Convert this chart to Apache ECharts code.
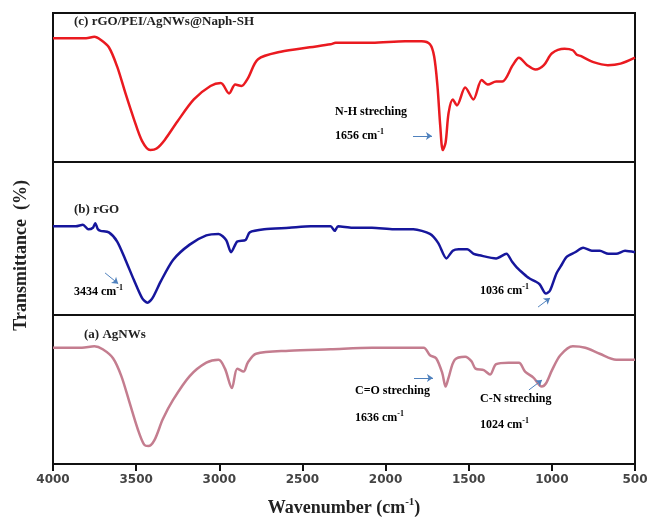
<!DOCTYPE html>
<html lang="en">

<head>
  <meta charset="UTF-8">
  <title>FTIR spectra</title>
  <script src="https://cdn.jsdelivr.net/npm/echarts@6/dist/echarts.min.js"></script>
</head>

<body style="margin:0;background:#fff;">
  <div id="main" style="width: 648px; height:519px;"></div>
  <script type="text/javascript">
    // tick labels of the shared wavenumber axis
    var xTicks = [4000, 3500, 3000, 2500, 2000, 1500, 1000, 500];

    // (c) rGO/PEI/AgNWs@Naph-SH - wavenumber / relative transmittance
    var wnC = [4000, 3801, 3751, 3714, 3664, 3614, 3564, 3514, 3464, 3415, 3377, 3327, 3253, 3153, 3053, 2991, 2941, 2904, 2867, 2829, 2767, 2630, 2456, 2331, 2300, 2082, 1883, 1783, 1733, 1708, 1688, 1671, 1656, 1639, 1621, 1596, 1571, 1521, 1472, 1422, 1385, 1335, 1298, 1235, 1198, 1148, 1098, 1048, 999, 924, 874, 850, 824, 750, 663, 587, 500];
    var tC = [83, 83, 84, 82, 77, 64, 46, 29, 14, 8, 9, 15, 27, 42, 51, 53, 46, 52, 51, 56, 69, 74, 77, 79, 80, 80, 81, 81, 79, 71, 51, 24, 8, 13, 33, 42, 38, 50, 42, 55, 52, 54, 54, 65, 70, 65, 62, 65, 73, 76, 75, 72, 71, 67, 65, 66, 70];

    // (b) rGO
    var wnB = [4000, 3863, 3820, 3788, 3760, 3746, 3730, 3714, 3664, 3614, 3564, 3514, 3464, 3432, 3402, 3352, 3278, 3178, 3078, 3004, 2959, 2929, 2892, 2842, 2817, 2730, 2580, 2450, 2331, 2306, 2285, 2200, 2082, 1950, 1833, 1733, 1683, 1634, 1596, 1560, 1509, 1470, 1435, 1335, 1273, 1240, 1210, 1170, 1136, 1100, 1073, 1036, 1011, 973, 940, 911, 860, 812, 760, 712, 660, 613, 560, 500];
    var tB = [58, 58, 59, 56, 57, 60, 56, 55, 54, 48, 36, 23, 11, 8, 11, 22, 36, 46, 52, 53, 49, 41, 48, 49, 54, 56, 57, 58, 58, 55, 58, 57, 57, 56, 56, 53, 47, 37, 42, 43, 43, 40, 39, 37, 40, 35, 31, 27, 24, 22, 20, 14, 16, 27, 33, 38, 41, 44, 42, 42, 40, 40, 42, 41];

    // (a) AgNWs
    var wnA = [4000, 3826, 3751, 3701, 3639, 3589, 3539, 3489, 3452, 3427, 3390, 3340, 3278, 3178, 3078, 3004, 2966, 2924, 2892, 2854, 2829, 2779, 2580, 2331, 2082, 1771, 1733, 1696, 1659, 1639, 1621, 1584, 1521, 1484, 1459, 1409, 1372, 1335, 1260, 1198, 1161, 1111, 1061, 1036, 999, 949, 874, 799, 712, 613, 500];
    var tA = [78, 78, 79, 77, 71, 59, 41, 23, 13, 12, 16, 30, 43, 59, 68, 70, 64, 51, 64, 62, 68, 74, 76, 77, 78, 78, 73, 71, 61, 52, 58, 70, 72, 69, 64, 63, 60, 67, 68, 68, 62, 58, 52, 54, 63, 73, 79, 78, 74, 70, 70];

    function pairs(xs, ys) {
      return xs.map(function (x, i) { return [x, ys[i]]; });
    }

    var serif = 'Liberation Serif';
    var arrowColor = '#4f81bd';
    var supRich = {
      a: { fontFamily: serif, fontWeight: 'bold', fontSize: 12, color: '#222', lineHeight: 16 },
      s: { fontFamily: serif, fontWeight: 'bold', fontSize: 8, color: '#222', verticalAlign: 'top', lineHeight: 16, padding: [0, 0, 6, 0] }
    };

    function note(x, y, txt) {
      return {
        type: 'text', left: x, top: y,
        style: { text: txt, rich: supRich }
      };
    }

    function arrows(list) {
      return {
        silent: true,
        symbol: ['none', 'arrow'],
        symbolSize: 6,
        label: { show: false },
        lineStyle: { color: arrowColor, width: 1, type: 'solid' },
        data: list.map(function (p) { return [{ coord: p[0] }, { coord: p[1] }]; })
      };
    }

    var grids = [
      { left: 53, right: 13, top: 13, height: 149 },
      { left: 53, right: 13, top: 162, height: 153 },
      { left: 53, right: 13, top: 315, height: 149 }
    ];
    grids.forEach(function (g) {
      g.show = true;
      g.borderColor = '#111';
      g.borderWidth = 2;
      g.containLabel = false;
      g.outerBoundsMode = 'none';
    });

    var xAxes = [0, 1, 2].map(function (i) {
      return {
        type: 'value', gridIndex: i, min: 500, max: 4000, interval: 500, inverse: true,
        show: i === 2,
        axisLine: { lineStyle: { color: '#111', width: 2 } },
        axisTick: { show: true, length: 7, lineStyle: { color: '#111', width: 2 } },
        splitLine: { show: false },
        axisLabel: {
          margin: 10, color: '#444', fontFamily: 'DejaVu Sans', fontWeight: 'bold', fontSize: 12,
          formatter: function (v) { return xTicks.indexOf(v) >= 0 ? String(v) : ''; }
        },
        name: i === 2 ? '{a|Wavenumber (cm}{s|-1}{a|)}' : '',
        nameLocation: 'middle',
        nameGap: 33,
        nameTextStyle: {
          rich: {
            a: { fontFamily: serif, fontWeight: 'bold', fontSize: 18, color: '#222', lineHeight: 22 },
            s: { fontFamily: serif, fontWeight: 'bold', fontSize: 11, color: '#222', verticalAlign: 'top', lineHeight: 22, padding: [0, 0, 8, 0] }
          }
        }
      };
    });

    var yAxes = [0, 1, 2].map(function (i) {
      return { type: 'value', gridIndex: i, min: 0, max: 100, show: false, splitLine: { show: false } };
    });

    var myChart = echarts.init(document.getElementById('main'));
    var option = {
      animation: false,
      backgroundColor: '#fff',
      grid: grids,
      xAxis: xAxes,
      yAxis: yAxes,
      series: [
        {
          name: '(c) rGO/PEI/AgNWs@Naph-SH', type: 'line', xAxisIndex: 0, yAxisIndex: 0,
          data: pairs(wnC, tC), showSymbol: false, smooth: 0.3,
          lineStyle: { color: '#ea1a20', width: 2.5 },
          markLine: arrows([[[1835, 17.4], [1721, 17.4]]])
        },
        {
          name: '(b) rGO', type: 'line', xAxisIndex: 1, yAxisIndex: 1,
          data: pairs(wnB, tB), showSymbol: false, smooth: 0.25,
          lineStyle: { color: '#16169c', width: 2.5 },
          markLine: arrows([
            [[3687, 27.5], [3608, 20.5]],
            [[1083, 5.2], [1011, 11.1]]
          ])
        },
        {
          name: '(a) AgNWs', type: 'line', xAxisIndex: 2, yAxisIndex: 2,
          data: pairs(wnA, tA), showSymbol: false, smooth: 0.3,
          lineStyle: { color: '#c47d8f', width: 2.5 },
          markLine: arrows([
            [[1829, 57.7], [1715, 57.7]],
            [[1138, 49.7], [1059, 56.4]]
          ])
        }
      ],
      graphic: [
        {
          type: 'text', left: 12, top: 180, rotation: Math.PI / 2,
          style: { text: 'Transmittance  (%)', fontFamily: serif, fontWeight: 'bold', fontSize: 18, fill: '#222' }
        },
        { type: 'text', left: 74, top: 15, style: { text: '(c) rGO/PEI/AgNWs@Naph-SH', fontFamily: serif, fontWeight: 'bold', fontSize: 13, fill: '#222' } },
        { type: 'text', left: 74, top: 203, style: { text: '(b) rGO', fontFamily: serif, fontWeight: 'bold', fontSize: 13, fill: '#222' } },
        { type: 'text', left: 84, top: 328, style: { text: '(a) AgNWs', fontFamily: serif, fontWeight: 'bold', fontSize: 13, fill: '#222' } },
        note(335, 106, '{a|N-H streching}'),
        note(335, 128, '{a|1656 cm}{s|-1}'),
        note(74, 284, '{a|3434 cm}{s|-1}'),
        note(480, 283, '{a|1036 cm}{s|-1}'),
        note(355, 385, '{a|C=O streching}'),
        note(355, 410, '{a|1636 cm}{s|-1}'),
        note(480, 393, '{a|C-N streching}'),
        note(480, 417, '{a|1024 cm}{s|-1}')
      ]
    };
    myChart.setOption(option);
  </script>
</body>

</html>
